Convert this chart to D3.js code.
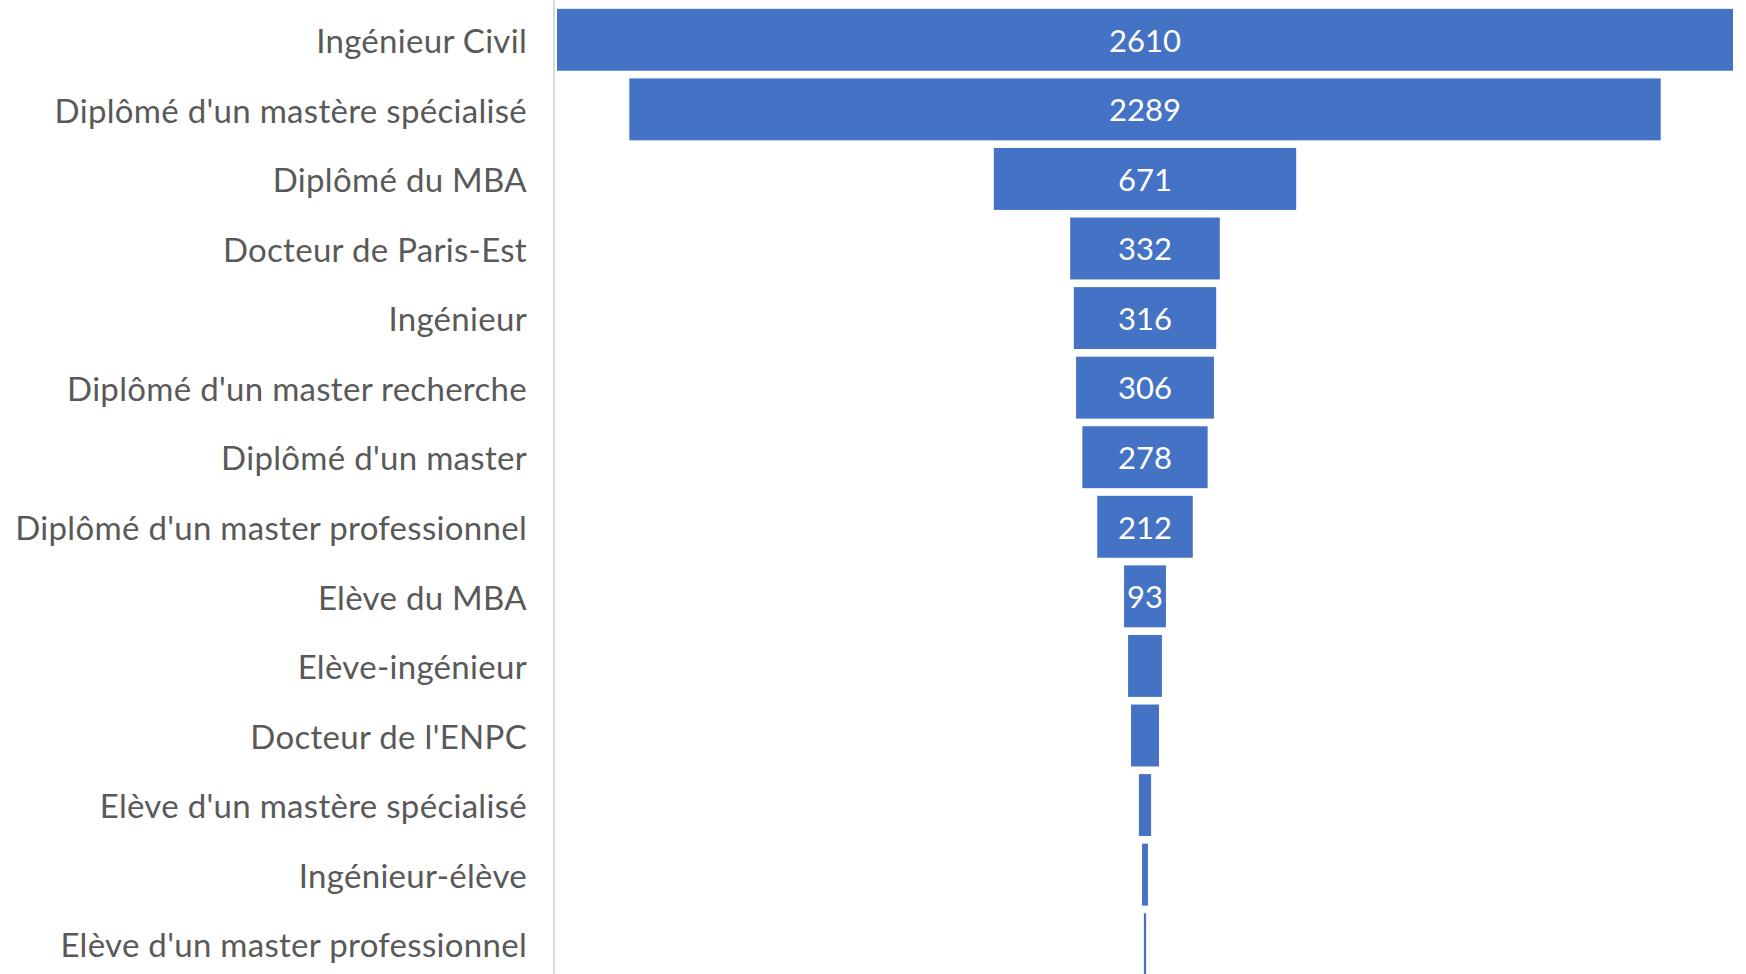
<!DOCTYPE html>
<html>
<head>
<meta charset="utf-8">
<script src="https://cdn.jsdelivr.net/npm/d3@7"></script>
<style>
  body { margin: 0; background: #fff; }
  svg { display: block; }
</style>
</head>
<body>
<svg id="chart"></svg>
<script>

//// DATA

// Categories, top to bottom
var categories = [
    "Ingénieur Civil",
    "Diplômé d'un mastère spécialisé",
    "Diplômé du MBA",
    "Docteur de Paris-Est",
    "Ingénieur",
    "Diplômé d'un master recherche",
    "Diplômé d'un master",
    "Diplômé d'un master professionnel",
    "Elève du MBA",
    "Elève-ingénieur",
    "Docteur de l'ENPC",
    "Elève d'un mastère spécialisé",
    "Ingénieur-élève",
    "Elève d'un master professionnel"
];
// Counts (the smallest ones have no label in the picture)
var values = [2610, 2289, 671, 332, 316, 306, 278, 212, 93, 75, 62, 27, 13, 5];
// Which bars show their value
var showLabel = [true, true, true, true, true, true, true, true, true, false, false, false, false, false];


//// LAYOUT

var width = 1746, height = 974;
var axisX = 554;       // vertical category axis line
var plotLeft = 557, plotRight = 1733;
var centerX = (plotLeft + plotRight) / 2;

var svg = d3.select("#chart").attr("width", width).attr("height", height);

// Scales
var x = d3.scaleLinear()
    .domain([0, d3.max(values)])
    .range([0, plotRight - plotLeft]);

var y = d3.scaleBand()
    .domain(categories)
    .range([5, 979])
    .paddingInner(0.11)
    .paddingOuter(0.055);

// Axis line
svg.append("line")
    .attr("x1", axisX).attr("x2", axisX)
    .attr("y1", 0).attr("y2", height)
    .attr("stroke", "#d9d9d9")
    .attr("stroke-width", 2);

// Category labels
svg.append("g")
    .selectAll("text")
    .data(categories)
    .enter()
    .append("text")
    .attr("x", axisX - 27)
    .attr("y", function(d) { return y(d) + y.bandwidth() / 2; })
    .attr("dy", "0.4em")
    .attr("text-anchor", "end")
    .attr("fill", "#595959")
    .style("font-family", "Lato, 'Noto Sans', sans-serif")
    .style("font-size", "33px")
    .style("letter-spacing", "0.3px")
    .text(function(d) { return d; });

// Bars, centred as a funnel
svg.append("g")
    .selectAll("rect")
    .data(values)
    .enter()
    .append("rect")
    .attr("x", function(d) { return centerX - x(d) / 2; })
    .attr("y", function(d, i) { return y(categories[i]); })
    .attr("width", function(d) { return x(d); })
    .attr("height", y.bandwidth())
    .attr("fill", "#4472c4");

// Value labels
svg.append("g")
    .selectAll("text")
    .data(values)
    .enter()
    .filter(function(d, i) { return showLabel[i]; })
    .append("text")
    .attr("x", centerX)
    .attr("y", function(d) { return y(categories[values.indexOf(d)]) + y.bandwidth() / 2; })
    .attr("dy", "0.38em")
    .attr("text-anchor", "middle")
    .attr("fill", "#ffffff")
    .style("font-family", "Lato, 'Noto Sans', sans-serif")
    .style("font-size", "31px")
    .text(function(d) { return d; });

</script>
</body>
</html>
